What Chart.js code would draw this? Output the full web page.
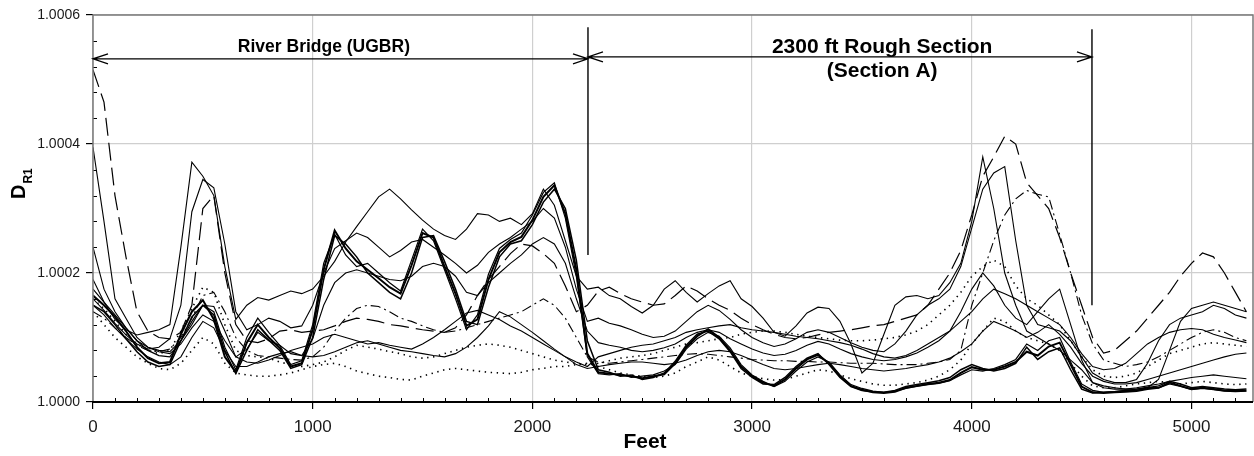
<!DOCTYPE html>
<html>
<head>
<meta charset="utf-8">
<script src="https://cdn.jsdelivr.net/npm/chart.js@4.4.1/dist/chart.umd.min.js"></script>
<style>
  html, body { margin: 0; padding: 0; background: #fff; }
  #wrap { width: 1254px; height: 456px; }
</style>
</head>
<body>
<div id="wrap"><canvas id="c" width="1254" height="456"></canvas></div>
<script>
// D_R1 along the test section, values in ppm above 1.0000 (so 200 = 1.0002)
const FEET = [
  0, 50, 100, 150, 200, 250, 300, 350, 400, 450,
  500, 550, 600, 650, 700, 750, 800, 850, 900, 950,
  1000, 1050, 1100, 1150, 1200, 1250, 1300, 1350, 1400, 1450,
  1500, 1550, 1600, 1650, 1700, 1750, 1800, 1850, 1900, 1950,
  2000, 2050, 2100, 2150, 2200, 2250, 2300, 2350, 2400, 2450,
  2500, 2550, 2600, 2650, 2700, 2750, 2800, 2850, 2900, 2950,
  3000, 3050, 3100, 3150, 3200, 3250, 3300, 3350, 3400, 3450,
  3500, 3550, 3600, 3650, 3700, 3750, 3800, 3850, 3900, 3950,
  4000, 4050, 4100, 4150, 4200, 4250, 4300, 4350, 4400, 4450,
  4500, 4550, 4600, 4650, 4700, 4750, 4800, 4850, 4900, 4950,
  5000, 5050, 5100, 5150, 5200, 5250
];

const X_TICKS = [0, 1000, 2000, 3000, 4000, 5000];
const Y_TICKS = [0, 200, 400, 600];

const bundleA = [
  165, 150, 132, 110, 85, 68, 60, 62, 105, 140,
  158, 128, 70, 46, 92, 120, 100, 84, 55, 60,
  112, 205, 266, 238, 218, 205, 192, 178, 168, 212,
  262, 255, 210, 168, 118, 128, 190, 232, 248, 256,
  282, 318, 336, 292, 205, 75, 46, 44, 42, 40,
  37, 40, 43, 60, 85, 102, 113, 100, 80, 55,
  40, 30, 25, 35, 52, 66, 73, 60, 40, 25,
  19, 15, 14, 16, 22, 25, 28, 30, 34, 45,
  54, 50, 50, 55, 62, 78, 72, 86, 92, 58,
  24, 15, 14, 15, 16, 17, 20, 22, 30, 25,
  20, 22, 20, 18, 17, 18
];
const bundleB = [
  150, 140, 120, 98, 78, 62, 55, 58, 95, 132,
  150, 135, 78, 44, 80, 112, 96, 80, 52, 58,
  100, 190, 258, 245, 225, 200, 185, 170, 160, 200,
  255, 258, 218, 175, 125, 120, 178, 225, 245, 250,
  275, 310, 330, 300, 220, 95, 50, 46, 40, 42,
  35, 38, 45, 63, 88, 105, 110, 98, 78, 52,
  38, 28, 27, 38, 55, 68, 75, 58, 38, 24,
  18, 16, 15, 18, 24, 27, 30, 33, 38, 50,
  58, 52, 48, 52, 60, 85, 66, 78, 84, 50,
  20, 14, 15, 16, 18, 18, 22, 25, 32, 28,
  22, 24, 22, 20, 19, 20
];
const bundleC = [
  175, 155, 135, 115, 95, 80, 72, 70, 95, 125,
  150, 140, 85, 50, 100, 130, 108, 88, 58, 64,
  120, 215, 260, 228, 210, 215, 200, 185, 172, 220,
  268, 250, 205, 160, 112, 135, 198, 238, 252, 262,
  290, 325, 340, 285, 195, 70, 44, 42, 44, 38,
  40, 42, 48, 58, 82, 98, 108, 102, 84, 58,
  42, 32, 24, 32, 48, 62, 70, 62, 42, 27,
  21, 17, 15, 17, 21, 24, 27, 29, 33, 42,
  50, 48, 52, 58, 66, 90, 80, 95, 100, 62,
  28, 18, 15, 16, 18, 20, 23, 22, 28, 24,
  19, 21, 19, 17, 16, 17
];
const peakA = [
  190, 155, 128, 112, 104, 108, 112, 120, 240, 372,
  350, 320, 210, 128, 150, 162, 158, 165, 172, 168,
  175, 195, 218, 248, 272, 295, 318, 330, 315, 298,
  282, 268, 258, 252, 268, 292, 290, 280, 285, 275,
  292, 330, 305, 250, 195, 175, 178, 165, 160, 148,
  138, 150, 175, 188, 170, 155, 168, 180, 188, 160,
  148, 130, 108, 102, 118, 138, 147, 145, 125, 90,
  45, 60, 105, 150, 163, 165, 160, 165, 185, 215,
  280, 380, 300, 200, 150, 110, 100, 90, 80, 65,
  50, 30, 25, 22, 20, 20, 22, 35, 80, 125,
  145, 150, 155, 150, 145, 140
];
const peakB = [
  160, 142, 122, 104, 90, 82, 85, 98, 150, 295,
  345, 332, 245, 140, 112, 120, 130, 125, 115, 118,
  150, 200, 238, 250, 262, 255, 240, 225, 235, 248,
  252, 240, 228, 215, 200, 212, 232, 245, 255, 268,
  280, 300, 285, 240, 175, 125, 130, 122, 118, 112,
  105, 100, 102, 110, 125, 140, 150, 142, 128, 112,
  100, 92, 86, 90, 98, 108, 112, 108, 100, 92,
  85, 80, 78, 90, 110, 135, 150, 160, 175, 210,
  270, 330, 355, 365, 250, 150, 120, 115, 110, 95,
  70, 45, 35, 30, 30, 35, 60, 95, 120, 130,
  135, 140, 150, 145, 135, 130
];
const longDash = [
  515, 465, 320, 225, 140, 110, 100, 98, 108, 150,
  300, 320, 200, 120, 95, 92, 98, 110, 112, 108,
  110, 112, 118, 125, 130, 128, 125, 120, 118, 115,
  112, 110, 108, 115, 135, 165, 190, 210, 230, 245,
  242, 230, 215, 180, 140, 150, 172, 178, 168, 160,
  155, 150, 152, 165, 180, 172, 160, 150, 142, 130,
  120, 112, 105, 100, 98, 100, 104, 108, 110, 112,
  115, 118, 120, 125, 130, 135, 150, 175, 200, 235,
  290, 350, 380, 412, 400, 340, 320, 300, 255, 200,
  150, 100, 76, 80, 95, 110, 130, 150, 170, 195,
  215, 231, 225, 200, 170, 140
];
const dashDot = [
  140, 130, 115, 100, 88, 80, 78, 82, 100, 130,
  165, 170, 140, 100, 80, 72, 70, 68, 66, 65,
  70, 85, 110, 130, 145, 150, 148, 140, 130, 125,
  118, 112, 108, 110, 115, 120, 125, 130, 135, 140,
  150, 160, 150, 130, 100, 70, 62, 60, 62, 64,
  66, 68, 70, 72, 74, 75, 74, 72, 70, 68,
  66, 65, 64, 64, 63, 63, 62, 62, 61, 60,
  60, 60, 59, 58, 58, 58, 60, 62, 66, 80,
  150, 200, 250, 290, 315, 328, 322, 318, 260, 200,
  135, 90, 65, 60, 55, 58, 62, 70, 80, 90,
  100, 108, 112, 108, 100, 95
];
const midLine = [
  240, 175, 140, 115, 95, 85, 78, 75, 90, 115,
  135, 125, 95, 70, 62, 60, 65, 72, 80, 85,
  90, 100, 105, 100, 95, 90, 92, 88, 85, 82,
  90, 100, 112, 125, 138, 142, 135, 128, 118, 110,
  100, 90, 80, 70, 62, 55, 70, 75, 80, 85,
  88, 90, 95, 100, 108, 112, 115, 118, 120, 115,
  112, 110, 108, 105, 102, 100, 98, 95, 92, 88,
  82, 75, 70, 68, 72, 80, 90, 100, 110, 125,
  140, 160, 175, 168, 160, 150, 140, 130, 120, 100,
  75, 55, 50, 52, 60, 75, 90, 100, 108, 112,
  114, 112, 105, 100, 96, 92
];
const lowLine = [
  150, 135, 115, 98, 82, 70, 62, 58, 70, 100,
  125, 115, 80, 55, 55, 62, 70, 75, 78, 72,
  70, 72, 78, 85, 92, 95, 90, 85, 80, 78,
  75, 72, 70, 75, 85, 100, 118, 140, 132, 120,
  108, 95, 82, 70, 58, 52, 55, 58, 60, 62,
  62, 60, 58, 60, 65, 72, 78, 80, 78, 72,
  65, 58, 52, 50, 52, 55, 58, 60, 58, 55,
  52, 50, 48, 50, 52, 55, 58, 62, 68, 78,
  90, 110, 125, 118, 110, 100, 108, 120, 105, 85,
  60, 40, 32, 28, 28, 30, 35, 40, 45, 50,
  55, 60, 65, 70, 74, 76
];
const dotLow = [
  140, 120, 100, 85, 70, 60, 52, 50, 60, 80,
  100, 90, 60, 45, 42, 40, 40, 42, 45, 50,
  55, 58, 60, 55, 48, 44, 40, 38, 35, 34,
  40, 45, 50, 52, 50, 48, 46, 45, 44, 46,
  50, 52, 55, 55, 58, 60, 55, 50, 45, 42,
  40, 38, 40, 45, 55, 62, 70, 65, 55, 45,
  40, 36, 34, 35, 40, 45, 50, 48, 42, 36,
  32, 28, 26, 26, 28, 30, 34, 40, 50, 65,
  90, 110, 130, 125, 110, 100, 95, 90, 80, 60,
  40, 25, 22, 22, 25, 28, 30, 32, 30, 28,
  30, 32, 30, 28, 27, 28
];
const dotMid = [
  160, 145, 125, 105, 90, 80, 75, 80, 110, 145,
  178, 170, 120, 80, 72, 70, 68, 62, 58, 55,
  58, 62, 70, 80, 88, 85, 82, 78, 75, 70,
  68, 70, 75, 80, 85, 88, 90, 88, 85, 80,
  75, 70, 65, 62, 60, 58, 60, 64, 68, 70,
  72, 75, 80, 85, 90, 92, 95, 98, 100, 105,
  108, 110, 110, 108, 105, 102, 100, 98, 96, 95,
  95, 96, 98, 100, 104, 110, 120, 135, 150, 170,
  195, 210, 220, 210, 180, 160, 150, 135, 120, 95,
  70, 50, 40, 38, 40, 45, 55, 65, 75, 80,
  85, 90, 92, 90, 88, 86
];
const spikeLine = [
  395, 280, 160, 130, 100, 85, 80, 78, 95, 120,
  150, 148, 110, 70, 82, 108, 95, 88, 75, 72,
  98, 150, 185, 200, 205, 200, 195, 190, 188, 195,
  210, 215, 210, 195, 170, 165, 185, 200, 215, 228,
  245, 255, 245, 215, 160, 110, 92, 88, 85, 80,
  78, 80, 84, 90, 100, 108, 112, 108, 98, 90,
  82, 76, 72, 74, 80, 88, 94, 90, 82, 75,
  70, 66, 64, 66, 70, 76, 85, 95, 110, 140,
  175, 200, 180, 150, 130, 120, 140, 160, 175, 120,
  65, 30, 22, 20, 20, 22, 25, 28, 32, 35,
  38, 40, 42, 40, 38, 36
];

// section markers (feet) and the labels above them
const SECTIONS = [
  { from: 0, to: 2253, arrowAt: 532, label: ['River Bridge (UGBR)'], labelAt: 1051 },
  { from: 2253, to: 4547, arrowAt: 535, label: ['2300 ft Rough Section', '(Section A)'], labelAt: 3592 }
];
const MARKERS = [
  { at: 2253, top: 581, bottom: 228 },
  { at: 4547, top: 578, bottom: 150 }
];

const FONT = "'Liberation Sans', Arial, Helvetica, sans-serif";

function series(values, style) {
    return Object.assign({
        data: FEET.map((f, i) => ({ x: f, y: values[i] })),
        borderColor: '#000',
        borderWidth: 1.1,
        pointRadius: 0,
        fill: false,
        tension: 0
    }, style);
}

const DOTS = [1.4, 4.6];
const DASH = [18, 7];
const DASHDOT = [10, 4, 2, 4];

// minor ticks, frame, section arrows and hand placed labels
const decorations = {
    id: 'decorations',
    afterDatasetsDraw(chart) {
        const { ctx, chartArea: a, scales: { x, y } } = chart;
        ctx.save();

        ctx.strokeStyle = '#000';
        ctx.lineWidth = 1;
        ctx.beginPath();
        for (let f = 100; f < 5280; f += 100) {
            if (f % 1000 === 0) continue;
            const px = Math.round(x.getPixelForValue(f)) + 0.5;
            ctx.moveTo(px, a.bottom);
            ctx.lineTo(px, a.bottom - 4);
        }
        for (let v = 40; v < 600; v += 40) {
            if (v % 200 === 0) continue;
            const py = Math.round(y.getPixelForValue(v)) + 0.5;
            ctx.moveTo(a.left, py);
            ctx.lineTo(a.left + 4, py);
        }
        ctx.stroke();

        // frame
        ctx.lineWidth = 1.5;
        ctx.strokeStyle = '#7a7a7a';
        ctx.beginPath();
        ctx.moveTo(a.left, a.bottom);
        ctx.lineTo(a.left, a.top);
        ctx.lineTo(a.right, a.top);
        ctx.lineTo(a.right, a.bottom);
        ctx.stroke();
        ctx.strokeStyle = '#000';
        ctx.lineWidth = 2;
        ctx.beginPath();
        ctx.moveTo(a.left - 1, a.bottom);
        ctx.lineTo(a.right, a.bottom);
        ctx.stroke();

        // vertical section markers
        ctx.lineWidth = 1.4;
        ctx.beginPath();
        MARKERS.forEach(m => {
            const px = x.getPixelForValue(m.at);
            ctx.moveTo(px, y.getPixelForValue(m.top));
            ctx.lineTo(px, y.getPixelForValue(m.bottom));
        });
        ctx.stroke();

        // double headed arrows
        ctx.lineWidth = 1.3;
        SECTIONS.forEach(s => {
            const x0 = x.getPixelForValue(s.from);
            const x1 = x.getPixelForValue(s.to);
            const py = y.getPixelForValue(s.arrowAt);
            ctx.beginPath();
            ctx.moveTo(x0, py); ctx.lineTo(x1, py);
            ctx.moveTo(x0 + 15, py - 5); ctx.lineTo(x0, py); ctx.lineTo(x0 + 15, py + 5);
            ctx.moveTo(x1 - 15, py - 5); ctx.lineTo(x1, py); ctx.lineTo(x1 - 15, py + 5);
            ctx.stroke();
        });

        // section labels
        ctx.fillStyle = '#000';
        ctx.textAlign = 'center';
        ctx.textBaseline = 'alphabetic';
        const s0 = SECTIONS[0], s1 = SECTIONS[1];
        ctx.font = 'bold 17.5px ' + FONT;
        ctx.fillText(s0.label[0], x.getPixelForValue(s0.labelAt), a.top + 37);
        ctx.font = 'bold 21px ' + FONT;
        ctx.fillText(s1.label[0], x.getPixelForValue(s1.labelAt), a.top + 38);
        ctx.fillText(s1.label[1], x.getPixelForValue(s1.labelAt), a.top + 62);

        // axis titles
        ctx.font = 'bold 21px ' + FONT;
        ctx.fillText('Feet', 645, 448);

        ctx.translate(25, 199);
        ctx.rotate(-Math.PI / 2);
        ctx.textAlign = 'left';
        ctx.font = 'bold 20px ' + FONT;
        ctx.fillText('D', 0, 0);
        const dw = ctx.measureText('D').width;
        ctx.font = 'bold 12px ' + FONT;
        ctx.fillText('R1', dw + 1, 7);

        ctx.restore();
    }
};

new Chart(document.getElementById('c'), {
    type: 'line',
    data: {
        datasets: [
            series(dotLow, { borderDash: DOTS, borderWidth: 1.6 }),
            series(dotMid, { borderDash: DOTS, borderWidth: 1.6 }),
            series(dashDot, { borderDash: DASHDOT }),
            series(longDash, { borderDash: DASH, borderWidth: 1.2 }),
            series(lowLine, {}),
            series(midLine, {}),
            series(spikeLine, {}),
            series(peakB, {}),
            series(peakA, {}),
            series(bundleC, { borderWidth: 1.2 }),
            series(bundleB, { borderWidth: 1.5 }),
            series(bundleA, { borderWidth: 2 })
        ]
    },
    options: {
        responsive: false,
        animation: false,
        devicePixelRatio: 1,
        layout: { padding: { top: 15, right: 1, left: 0, bottom: 0 } },
        plugins: { legend: { display: false }, tooltip: { enabled: false } },
        scales: {
            x: {
                type: 'linear',
                min: 0,
                max: 5280,
                afterBuildTicks: s => { s.ticks = X_TICKS.map(v => ({ value: v })); },
                afterFit: s => { s.height = 54; },
                border: { display: false },
                grid: { color: '#cfcfcf', lineWidth: 1.2, tickLength: 7, tickColor: '#000', tickWidth: 1.2 },
                ticks: {
                    font: { family: FONT, size: 17 },
                    color: '#1a1a1a',
                    padding: 8,
                    maxRotation: 0,
                    callback: v => String(v)
                }
            },
            y: {
                min: 0,
                max: 600,
                afterBuildTicks: s => { s.ticks = Y_TICKS.map(v => ({ value: v })); },
                afterFit: s => { s.width = 93; },
                border: { display: false },
                grid: { color: '#cfcfcf', lineWidth: 1.2, tickLength: 7, tickColor: '#000', tickWidth: 1.2 },
                ticks: {
                    font: { family: FONT, size: 14 },
                    color: '#1a1a1a',
                    padding: 6,
                    callback: v => (1 + v / 1e6).toFixed(4)
                }
            }
        }
    },
    plugins: [decorations]
});
</script>
</body>
</html>
